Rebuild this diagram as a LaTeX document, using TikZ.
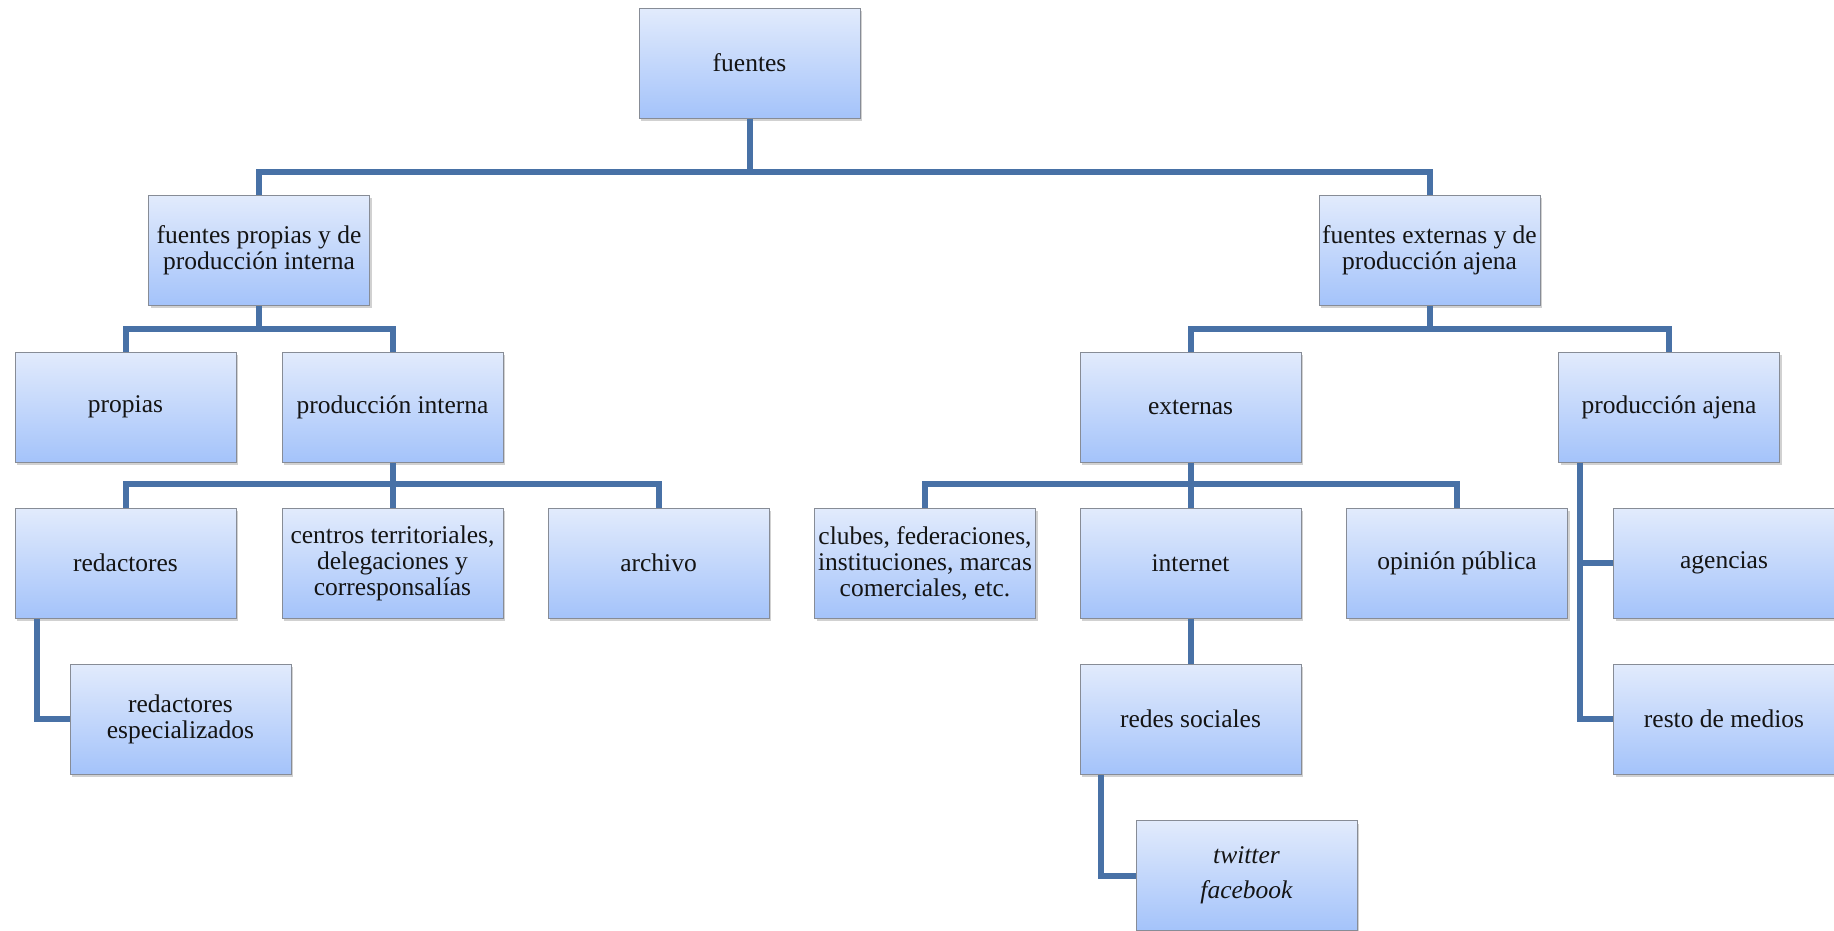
\documentclass[tikz,border=0pt]{standalone}
\usepackage{fontspec}
\setmainfont{Liberation Serif}
\usetikzlibrary{shadows}
\definecolor{boxtop}{RGB}{226,235,252}
\definecolor{boxbot}{RGB}{164,195,250}
\definecolor{boxline}{RGB}{135,140,150}
\definecolor{linkcol}{RGB}{72,113,166}
\definecolor{txtcol}{RGB}{20,20,20}
\tikzset{
  box/.style={rectangle, draw=boxline, line width=1pt,
    top color=boxtop, bottom color=boxbot,
    minimum width=221pt, minimum height=110pt, inner sep=0pt,
    align=center, text=txtcol,
    font=\fontsize{25.5}{26}\selectfont,
    drop shadow={shadow xshift=2pt, shadow yshift=-3pt, opacity=0.3, fill=black!60}},
  conn/.style={draw=linkcol, line width=6pt}
}
\begin{document}
\begin{tikzpicture}[x=1pt,y=-1pt]
\useasboundingbox (0,0) rectangle (1834,930);
% level 0 and 1
\node[box] (fuentes) at (749.5,63) {fuentes};
\node[box] (fpi) at (259,250) {fuentes propias y de\\producción interna};
\node[box] (fea) at (1429.5,250) {fuentes externas y de\\producción ajena};
% level 2
\node[box] (propias) at (125.5,407) {propias};
\node[box] (prodint) at (392.5,407) {producción interna};
\node[box] (externas) at (1190.5,407) {externas};
\node[box] (prodajena) at (1669,407) {producción ajena};
% level 3
\node[box] (redactores) at (125.5,563) {redactores};
\node[box] (centros) at (392.5,563) {centros territoriales,\\delegaciones y\\corresponsalías};
\node[box] (archivo) at (658.5,563) {archivo};
\node[box] (clubes) at (925,563) {clubes, federaciones,\\instituciones, marcas\\comerciales, etc.};
\node[box] (internet) at (1190.5,563) {internet};
\node[box] (opinion) at (1457,563) {opinión pública};
\node[box] (agencias) at (1724,563) {agencias};
% level 4
\node[box] (esp) at (180.5,719) {redactores\\especializados};
\node[box] (redes) at (1190.5,719) {redes sociales};
\node[box] (resto) at (1724,719) {resto de medios};
% level 5
\node[box] (twitter) at (1246.5,875.5) {\itshape twitter\\[9pt]\itshape facebook};
% junctions
\coordinate (j0) at (749.5,172);
\coordinate (j1) at (259,329);
\coordinate (j2) at (1429.5,329);
\coordinate (j3) at (392.5,484);
\coordinate (j4) at (1190.5,484);
% connectors
\draw[conn] (fuentes.south) -- (j0);
\draw[conn] (fpi.north) |- (j0) -| (fea.north);
\draw[conn] (fpi.south) -- (j1);
\draw[conn] (propias.north) |- (j1) -| (prodint.north);
\draw[conn] (fea.south) -- (j2);
\draw[conn] (externas.north) |- (j2) -| (prodajena.north);
\draw[conn] (prodint.south) -- (centros.north);
\draw[conn] (redactores.north) |- (j3) -| (archivo.north);
\draw[conn] (externas.south) -- (internet.north);
\draw[conn] (clubes.north) |- (j4) -| (opinion.north);
\draw[conn] (internet.south) -- (redes.north);
\draw[conn] ([xshift=22pt]redactores.south west) |- (esp.west);
\draw[conn] ([xshift=22pt]prodajena.south west) |- (resto.west);
\draw[conn] ([xshift=22pt]prodajena.south west) |- (agencias.west);
\draw[conn] ([xshift=21pt]redes.south west) |- (twitter.west);
\end{tikzpicture}
\end{document}
